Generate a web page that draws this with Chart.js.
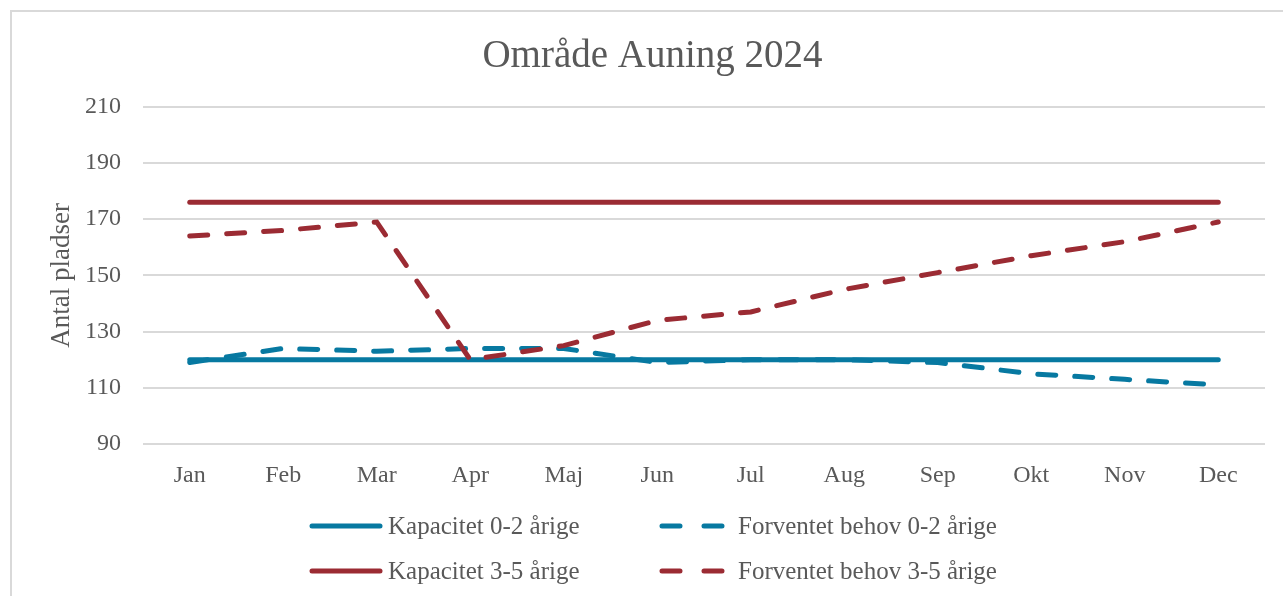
<!DOCTYPE html>
<html>
<head>
<meta charset="utf-8">
<script src="https://cdn.jsdelivr.net/npm/chart.js@4.4.1/dist/chart.umd.min.js"></script>
<style>
    html, body { margin: 0; padding: 0; background: #fff; }
    #frame {
        position: absolute; left: 10px; top: 10px; width: 1290px; height: 600px;
        border: 2px solid #d9d9d9; box-sizing: border-box;
    }
    #wrap { position: absolute; left: 0; top: 0; width: 1283px; height: 596px; }
</style>
</head>
<body>
<div id="frame"></div>
<div id="wrap"><canvas id="auningChart" width="1283" height="596"></canvas></div>
<script>
const months = ['Jan', 'Feb', 'Mar', 'Apr', 'Maj', 'Jun', 'Jul', 'Aug', 'Sep', 'Okt', 'Nov', 'Dec'];
const kapacitet02 = [120, 120, 120, 120, 120, 120, 120, 120, 120, 120, 120, 120];
const behov02 = [119, 124, 123, 124, 124, 119, 120, 120, 119, 115, 113, 111];
const kapacitet35 = [176, 176, 176, 176, 176, 176, 176, 176, 176, 176, 176, 176];
const behov35 = [164, 166, 169, 120, 125, 134, 137, 145, 151, 157, 162, 169];
const yTicks = [90, 110, 130, 150, 170, 190, 210];

const blue = '#0779a1';
const red = '#9b2b33';
const textGrey = '#595959';
const fontFamily = '"Liberation Serif", serif';

// legend drawn as a 2x2 grid like the original
const gridLegend = {
    id: 'gridLegend',
    afterDraw(chart) {
        const ctx = chart.ctx;
        const cols = [310, 660];
        const rows = [526, 571];
        ctx.save();
        ctx.font = '25px ' + fontFamily;
        ctx.fillStyle = textGrey;
        ctx.textBaseline = 'middle';
        ctx.lineCap = 'round';
        chart.data.datasets.forEach((ds, n) => {
            const x = cols[n % 2];
            const y = rows[Math.floor(n / 2)];
            ctx.strokeStyle = ds.borderColor;
            ctx.lineWidth = 5;
            ctx.beginPath();
            if (ds.borderDash && ds.borderDash.length) {
                ctx.moveTo(x + 2, y); ctx.lineTo(x + 20, y);
                ctx.moveTo(x + 44, y); ctx.lineTo(x + 62, y);
            } else {
                ctx.moveTo(x + 2, y); ctx.lineTo(x + 70, y);
            }
            ctx.stroke();
            ctx.fillText(ds.label, x + 78, y + 1);
        });
        ctx.restore();
    }
};

const ctx = document.getElementById('auningChart').getContext('2d');
new Chart(ctx, {
    type: 'line',
    data: {
        labels: months,
        datasets: [
            {
                label: 'Kapacitet 0-2 årige',
                data: kapacitet02,
                borderColor: blue,
                borderWidth: 5,
                borderCapStyle: 'round',
                pointRadius: 0,
                order: 4
            },
            {
                label: 'Forventet behov 0-2 årige',
                data: behov02,
                borderColor: blue,
                borderWidth: 5,
                borderDash: [18, 19],
                borderCapStyle: 'round',
                pointRadius: 0,
                order: 3
            },
            {
                label: 'Kapacitet 3-5 årige',
                data: kapacitet35,
                borderColor: red,
                borderWidth: 5,
                borderCapStyle: 'round',
                pointRadius: 0,
                order: 2
            },
            {
                label: 'Forventet behov 3-5 årige',
                data: behov35,
                borderColor: red,
                borderWidth: 5,
                borderDash: [18, 19],
                borderCapStyle: 'round',
                pointRadius: 0,
                order: 1
            }
        ]
    },
    options: {
        responsive: false,
        animation: false,
        layout: {
            padding: { left: 40, right: 18, top: 0, bottom: 0 }
        },
        plugins: {
            legend: { display: false },
            tooltip: { enabled: false },
            title: {
                display: true,
                text: 'Område Auning 2024',
                color: textGrey,
                font: { family: fontFamily, size: 39, weight: 'normal', lineHeight: 1.2 },
                padding: { top: 33, bottom: 27 }
            }
        },
        scales: {
            x: {
                offset: true,
                grid: { display: false },
                border: { display: false },
                ticks: {
                    color: textGrey,
                    font: { family: fontFamily, size: 24 },
                    padding: 9,
                    maxRotation: 0
                },
                afterFit: s => { s.height = 152; }
            },
            y: {
                min: 90,
                max: 210,
                afterBuildTicks: s => { s.ticks = yTicks.map(v => ({ value: v })); },
                grid: { color: '#d9d9d9', lineWidth: 2, drawTicks: false },
                border: { display: false },
                ticks: {
                    color: textGrey,
                    font: { family: fontFamily, size: 24 },
                    padding: 22
                },
                title: {
                    display: true,
                    text: 'Antal pladser',
                    color: textGrey,
                    font: { family: fontFamily, size: 27 },
                    padding: { top: 6, bottom: 0 }
                },
                afterFit: s => { s.width = 103; }
            }
        }
    },
    plugins: [gridLegend]
});
</script>
</body>
</html>
